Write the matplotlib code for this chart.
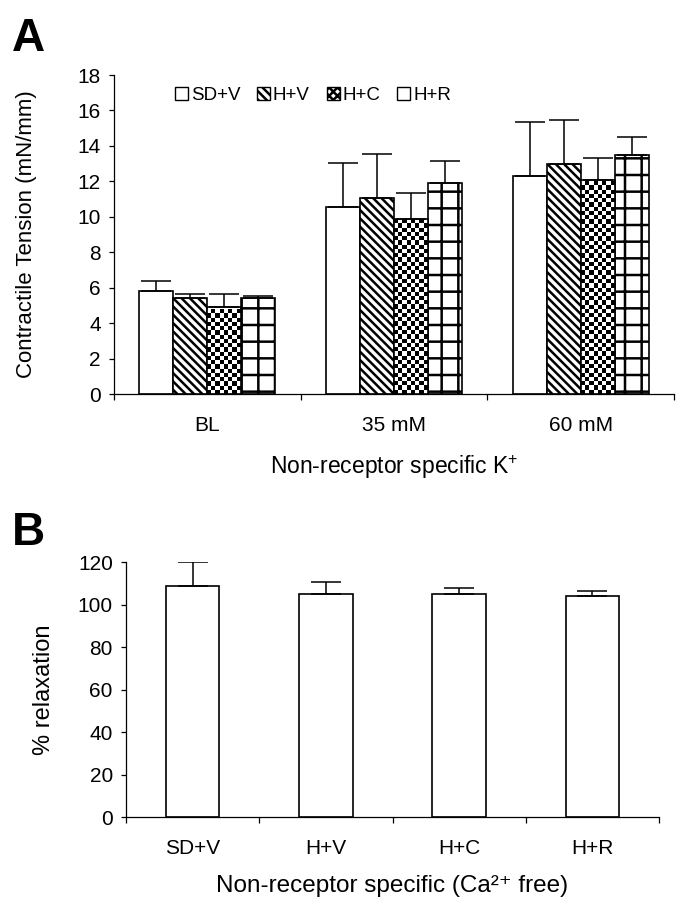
import numpy as np
import matplotlib
matplotlib.use("Agg")
import matplotlib.pyplot as plt
from matplotlib.patches import Patch

plt.rcParams['font.family'] = ['Liberation Sans', 'DejaVu Sans']
plt.rcParams['mathtext.default'] = 'regular'
plt.rcParams['hatch.linewidth'] = 1.8

# panel A data
conditions = ["BL", "35 mM", "60 mM"]
groups = ["SD+V", "H+V", "H+C", "H+R"]
sdv = [5.83, 10.56, 12.30]
sdv_err = [0.56, 2.49, 3.06]
hv = [5.40, 11.07, 12.97]
hv_err = [0.23, 2.50, 2.51]
hc = [4.90, 9.89, 12.06]
hc_err = [0.76, 1.47, 1.27]
hr = [5.40, 11.93, 13.50]
hr_err = [0.15, 1.21, 0.99]

# panel B data
relax_labels = ["SD+V", "H+V", "H+C", "H+R"]
relax = [108.7, 105.0, 105.0, 104.1]
relax_err = [11.5, 5.6, 2.8, 2.3]

fig = plt.figure(figsize=(6.85, 9.17), dpi=100)
axA = fig.add_axes([0.1664, 0.5703, 0.8175, 0.3479])
axB = fig.add_axes([0.184, 0.109, 0.778, 0.2781])

def style_axis(ax, n):
    for s in ['top', 'right']:
        ax.spines[s].set_visible(False)
    for s in ['left', 'bottom']:
        ax.spines[s].set_linewidth(0.9)
    ax.set_xlim(-0.5, n - 0.5)
    ax.set_xticks(np.arange(n + 1) - 0.5)
    ax.set_xticklabels([])
    ax.tick_params(axis='x', which='major', direction='out', length=4.5, width=0.9)
    ax.tick_params(axis='x', which='minor', length=0, pad=16, labelsize=15)
    ax.tick_params(axis='y', direction='out', length=3.5, width=0.9, pad=6, labelsize=15)

# ---- panel A ----
w = 0.182
x = np.arange(len(conditions))
series = [(sdv, sdv_err, None), (hv, hv_err, '\\\\\\\\'), (hc, hc_err, 'checker'), (hr, hr_err, '+')]
handles = []
for i, (vals, errs, hatch) in enumerate(series):
    xs = x + (i - 1.5) * w
    if hatch == 'checker':
        bars = axA.bar(xs, vals, w, facecolor='none', edgecolor='black', linewidth=1.2, zorder=3)
        handles.append(Patch(facecolor='white', edgecolor='black', hatch='xxxx', linewidth=1.0))
        hc_bars = bars
    else:
        bars = axA.bar(xs, vals, w, facecolor='white', edgecolor='black', linewidth=1.2,
                       hatch=hatch, zorder=2)
        handles.append(Patch(facecolor='white', edgecolor='black',
                             hatch=hatch if hatch != '+' else None, linewidth=1.0))
    axA.errorbar(xs, vals, yerr=[np.zeros(len(vals)), errs], fmt='none', ecolor='black',
                 elinewidth=1.1, capsize=11, capthick=1.1, zorder=4)

style_axis(axA, len(conditions))
axA.set_ylim(0, 18)
axA.set_yticks(np.arange(0, 19, 2))
axA.set_xticks(x, minor=True)
axA.set_xticklabels(conditions, minor=True)

# checkerboard fill for H+C bars
fig.canvas.draw()
for b in hc_bars:
    x0, y0 = b.get_x(), 0
    x1, y1 = b.get_x() + b.get_width(), b.get_height()
    p0 = axA.transData.transform((x0, y0))
    p1 = axA.transData.transform((x1, y1))
    nx = 8
    cell = (p1[0] - p0[0]) / nx
    ny = max(1, int(round((p1[1] - p0[1]) / cell)))
    checker = (np.add.outer(np.arange(ny), np.arange(nx)) % 2).astype(float)
    im = axA.imshow(checker, cmap='gray', extent=(x0, x1, y0, y0 + ny * cell * (y1 - y0) / (p1[1] - p0[1])),
                    origin='lower', interpolation='nearest', aspect='auto', zorder=2)
    im.set_clip_path(b)
axA.set_xlim(-0.5, 2.5)
axA.set_ylim(0, 18)

axA.legend(handles, groups, ncol=4, loc='upper left', bbox_to_anchor=(0.095, 0.985),
           frameon=False, fontsize=13.5, handlelength=0.7, handleheight=0.7,
           handletextpad=0.15, columnspacing=0.9, borderaxespad=0)
axA.set_ylabel("Contractile Tension (mN/mm)", fontsize=16)
axA.yaxis.set_label_coords(-0.138, 0.5)
axA.set_xlabel("Non-receptor specific K$^{+}$", fontsize=16.5, labelpad=13)
fig.text(0.018, 0.957, "A", fontsize=33, fontweight='bold', ha='left', va='center')

# ---- panel B ----
xb = np.arange(len(relax_labels))
axB.bar(xb, relax, 0.4, facecolor='white', edgecolor='black', linewidth=1.2, zorder=2)
axB.errorbar(xb, relax, yerr=[np.zeros(len(relax)), relax_err], fmt='none', ecolor='black',
             elinewidth=1.1, capsize=11, capthick=1.1, zorder=4)
style_axis(axB, len(relax_labels))
axB.set_ylim(0, 120)
axB.set_yticks(np.arange(0, 121, 20))
axB.set_xticks(xb, minor=True)
axB.set_xticklabels(relax_labels, minor=True)
axB.set_ylabel("% relaxation", fontsize=17)
axB.yaxis.set_label_coords(-0.133, 0.5)
axB.set_xlabel("Non-receptor specific (Ca\u00b2\u207a free)", fontsize=17.5, labelpad=12)
fig.text(0.018, 0.419, "B", fontsize=33, fontweight='bold', ha='left', va='center')

fig.savefig("out.png", dpi=100)
